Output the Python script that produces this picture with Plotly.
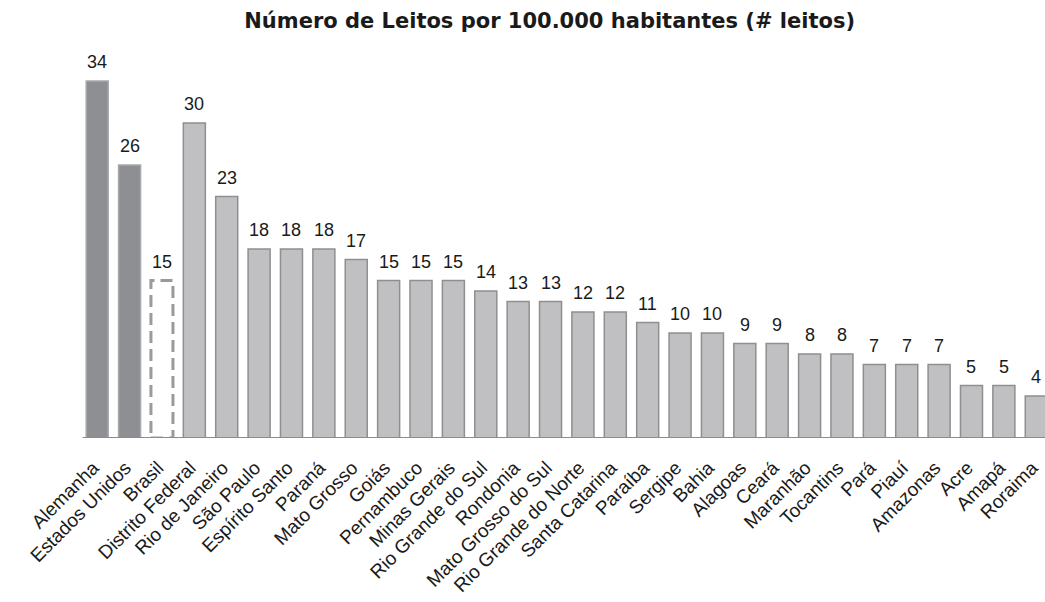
import plotly.graph_objects as go

# Leitos por 100.000 habitantes
categorias = [
    "Alemanha", "Estados Unidos", "Brasil", "Distrito Federal", "Rio de Janeiro",
    "São Paulo", "Espírito Santo", "Paraná", "Mato Grosso", "Goiás", "Pernambuco",
    "Minas Gerais", "Rio Grande do Sul", "Rondonia", "Mato Grosso do Sul",
    "Rio Grande do Norte", "Santa Catarina", "Paraíba", "Sergipe", "Bahia",
    "Alagoas", "Ceará", "Maranhão", "Tocantins", "Pará", "Piauí", "Amazonas",
    "Acre", "Amapá", "Roraima",
]
leitos = [34, 26, 15, 30, 23, 18, 18, 18, 17, 15, 15, 15, 14, 13, 13,
          12, 12, 11, 10, 10, 9, 9, 8, 8, 7, 7, 7, 5, 5, 4]

paises = categorias[:2]
brasil = categorias[2]
estados = categorias[3:]

fig = go.Figure()

# Países de referência (cinza escuro)
fig.add_trace(go.Bar(
    x=paises, y=leitos[:2], width=0.68,
    marker=dict(color="#8e8f93", line=dict(color="#a8a9ac", width=1.5)),
    hoverinfo="x+y",
))

# Estados (cinza claro)
fig.add_trace(go.Bar(
    x=estados, y=leitos[3:], width=0.68,
    marker=dict(color="#c0c0c2", line=dict(color="#8f8f92", width=1.5)),
    hoverinfo="x+y",
))

# Brasil: barra transparente só para a categoria; contorno tracejado abaixo
fig.add_trace(go.Bar(
    x=[brasil], y=[leitos[2]], width=0.68,
    marker=dict(color="rgba(0,0,0,0)", line=dict(width=0)),
    hoverinfo="x+y",
))
idx_br = categorias.index(brasil)
fig.add_shape(
    type="rect", xref="x", yref="y",
    x0=idx_br - 0.34, x1=idx_br + 0.34, y0=0, y1=leitos[2],
    line=dict(color="#9a9a9c", width=3, dash="12px,6px"),
    fillcolor="rgba(0,0,0,0)",
)

# Rótulos de valor
for c, v in zip(categorias, leitos):
    fig.add_annotation(
        x=c, y=v, text=str(v), showarrow=False,
        yanchor="bottom", yshift=7,
        font=dict(family="Liberation Sans, Arial, sans-serif", size=18, color="#1a1a1a"),
    )

# Linha de base
fig.add_shape(
    type="line", xref="x", yref="y",
    x0=-0.45, x1=29.6, y0=0, y1=0,
    line=dict(color="#8c8c8e", width=2),
)

fig.update_layout(
    width=1045, height=602,
    margin=dict(l=81, r=0, t=60, b=164),
    paper_bgcolor="white", plot_bgcolor="white",
    barmode="overlay", showlegend=False,
    title=dict(
        text="<b>Número de Leitos por 100.000 habitantes (# leitos)</b>",
        x=0.526, xanchor="center", y=0.965, yanchor="middle",
        font=dict(family="DejaVu Sans, sans-serif", size=21, color="#1a1a1a"),
    ),
    xaxis=dict(
        type="category", categoryorder="array", categoryarray=categorias,
        range=[-0.5, 29.27], tickangle=-45, showline=False, showgrid=False,
        ticks="", automargin=False, ticklabelstandoff=14, ticklabelshift=-4,
        tickfont=dict(family="Liberation Sans, Arial, sans-serif", size=19, color="#1a1a1a"),
    ),
    yaxis=dict(range=[0, 36], visible=False, showgrid=False, zeroline=False),
)

fig.write_html("out.html")
